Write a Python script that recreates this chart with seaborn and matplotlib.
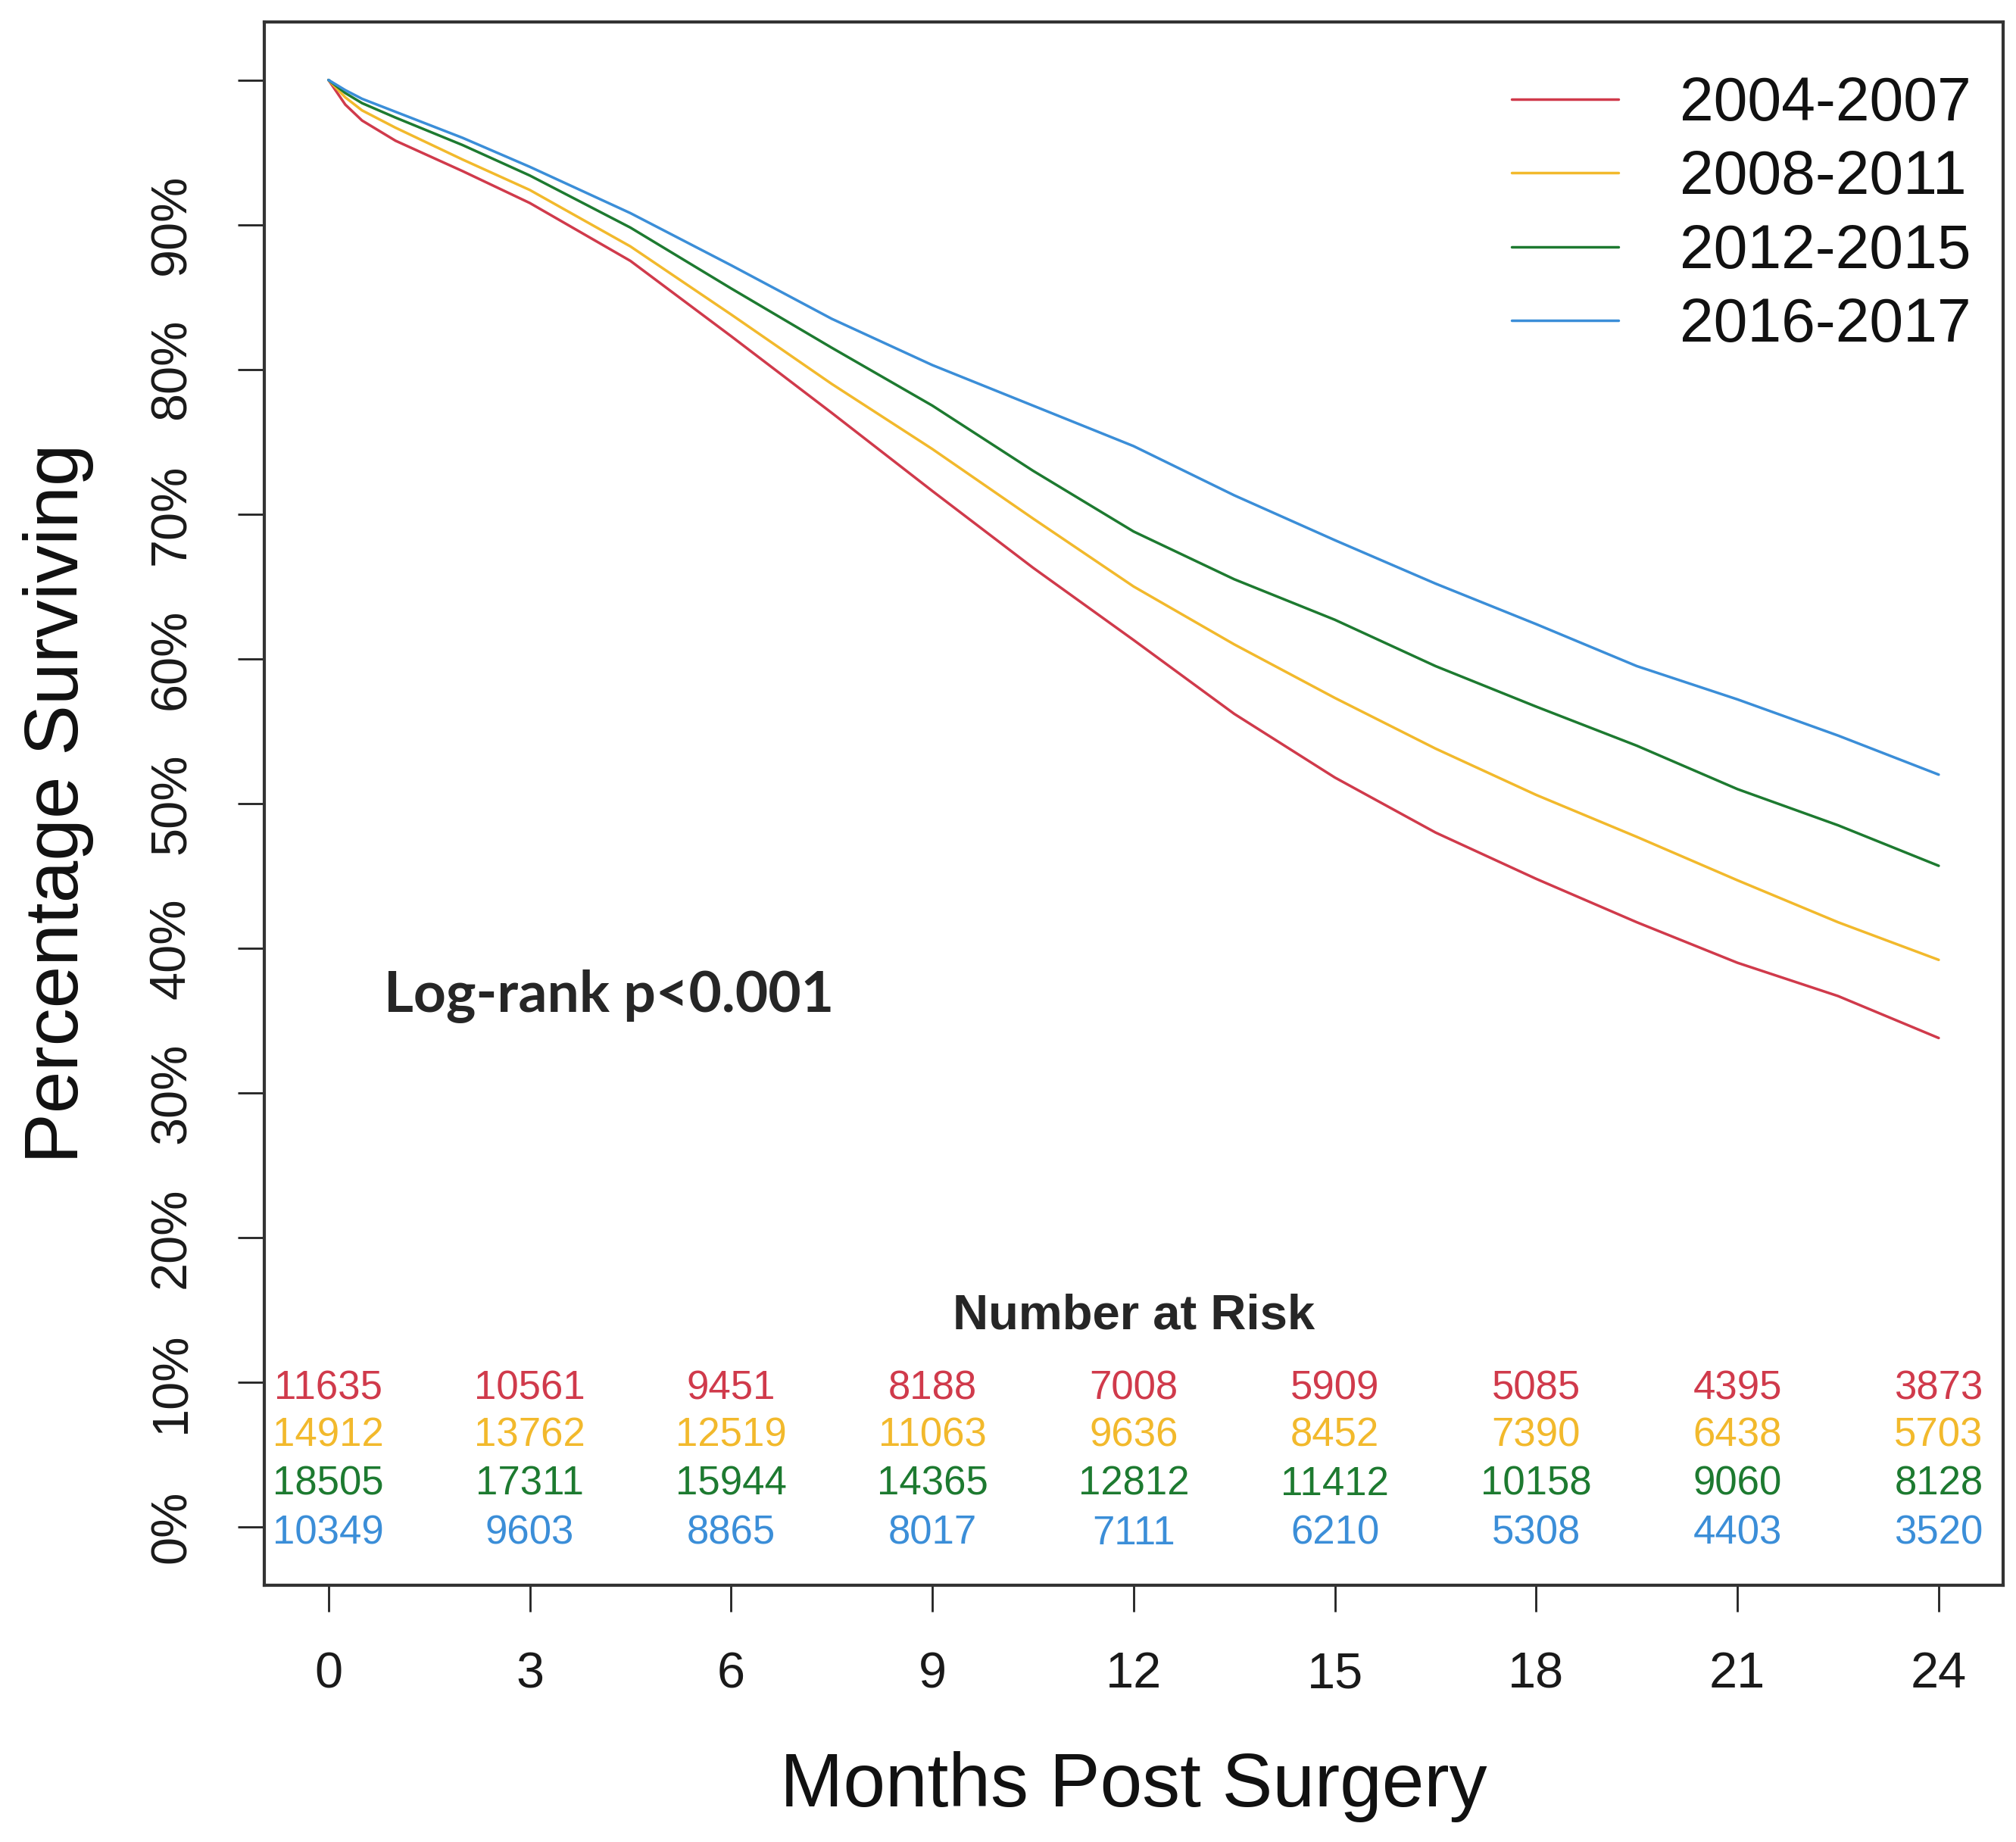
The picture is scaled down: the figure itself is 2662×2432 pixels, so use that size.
import pandas as pd
import matplotlib.pyplot as plt
import seaborn as sns

# survival (fraction surviving) at these months
months = [0, 0.25, 0.5, 1, 2, 3, 4.5, 6, 7.5, 9, 10.5, 12, 13.5, 15, 16.5, 18, 19.5, 21, 22.5, 24]
surv_0407 = [1.0, 0.983, 0.972, 0.958, 0.937, 0.915, 0.875, 0.823, 0.770, 0.716, 0.663, 0.613,
             0.562, 0.518, 0.480, 0.448, 0.418, 0.390, 0.367, 0.338]
surv_0811 = [1.0, 0.988, 0.979, 0.967, 0.945, 0.924, 0.885, 0.838, 0.790, 0.745, 0.697, 0.650,
             0.610, 0.573, 0.538, 0.506, 0.477, 0.447, 0.418, 0.392]
surv_1215 = [1.0, 0.991, 0.984, 0.974, 0.955, 0.934, 0.898, 0.856, 0.815, 0.775, 0.730, 0.688,
             0.655, 0.627, 0.595, 0.567, 0.540, 0.510, 0.485, 0.457]
surv_1617 = [1.0, 0.993, 0.987, 0.978, 0.960, 0.940, 0.908, 0.872, 0.835, 0.803, 0.775, 0.747,
             0.713, 0.682, 0.652, 0.624, 0.595, 0.572, 0.547, 0.520]

periods = ["2004-2007", "2008-2011", "2012-2015", "2016-2017"]
line_colors = ["#d03a4b", "#f2b92c", "#1d7a30", "#3b8ed8"]

# number at risk table
risk_months = [0, 3, 6, 9, 12, 15, 18, 21, 24]
risk_0407 = [11635, 10561, 9451, 8188, 7008, 5909, 5085, 4395, 3873]
risk_0811 = [14912, 13762, 12519, 11063, 9636, 8452, 7390, 6438, 5703]
risk_1215 = [18505, 17311, 15944, 14365, 12812, 11412, 10158, 9060, 8128]
risk_1617 = [10349, 9603, 8865, 8017, 7111, 6210, 5308, 4403, 3520]

y_ticks = [0, 0.1, 0.2, 0.3, 0.4, 0.5, 0.6, 0.7, 0.8, 0.9, 1.0]
y_labels = ["0%", "10%", "20%", "30%", "40%", "50%", "60%", "70%", "80%", "90%", ""]

surv_all = [surv_0407, surv_0811, surv_1215, surv_1617]
risk_all = [risk_0407, risk_0811, risk_1215, risk_1617]

df = pd.concat([pd.DataFrame({"month": months, "surv": s, "period": p})
                for s, p in zip(surv_all, periods)], ignore_index=True)

sns.set_style("white")
plt.rcParams["font.family"] = ["Liberation Sans", "DejaVu Sans"]

fig = plt.figure(figsize=(26.62, 24.32), dpi=100)
ax = fig.add_axes([0.131, 0.1395, 0.8626, 0.8485])

sns.lineplot(data=df, x="month", y="surv", hue="period", palette=line_colors,
             linewidth=2.5, ax=ax, sort=True)

ax.set_xlim(-0.96, 24.96)
ax.set_ylim(-0.04, 1.04)
ax.set_xticks(risk_months)
ax.set_xticklabels([str(m) for m in risk_months])
ax.set_yticks(y_ticks)
ax.set_yticklabels(y_labels, rotation=90, va="center")

ax.tick_params(axis="both", direction="out", length=25, width=2, color="#222222",
               labelsize=48, labelcolor="#1a1a1a", bottom=True, left=True)
ax.tick_params(axis="x", pad=38)
ax.tick_params(axis="y", pad=40)
for sp in ax.spines.values():
    sp.set_visible(True)
    sp.set_color("#333333")
    sp.set_linewidth(3)

ax.set_xlabel("Months Post Surgery", fontsize=72, labelpad=50, color="#111111")
ax.set_ylabel("Percentage Surviving", fontsize=72, labelpad=52, color="#111111")

leg = ax.legend(loc="upper right", bbox_to_anchor=(1.006, 0.993), frameon=False,
                fontsize=58, handlelength=1.75, handletextpad=1.0, labelspacing=0.265,
                borderaxespad=0.3)
for h in leg.get_lines():
    h.set_linewidth(2.5)
for t in leg.get_texts():
    t.set_color("#111111")

ax.text(0.83, 0.367, "Log-rank p<0.001", fontsize=54, fontweight="bold",
        family=["Lato", "DejaVu Sans"], ha="left", va="center")

# number at risk rows
ax.text(12, 0.146, "Number at Risk", fontsize=47, fontweight="bold", ha="center", va="center")
row_y = [0.0955, 0.0634, 0.0295, -0.0045]
for vals, col, yy in zip(risk_all, line_colors, row_y):
    for m, v in zip(risk_months, vals):
        ax.text(m, yy, str(v), color=col, fontsize=38, ha="center", va="center")

fig.savefig("out.png", dpi=100)
